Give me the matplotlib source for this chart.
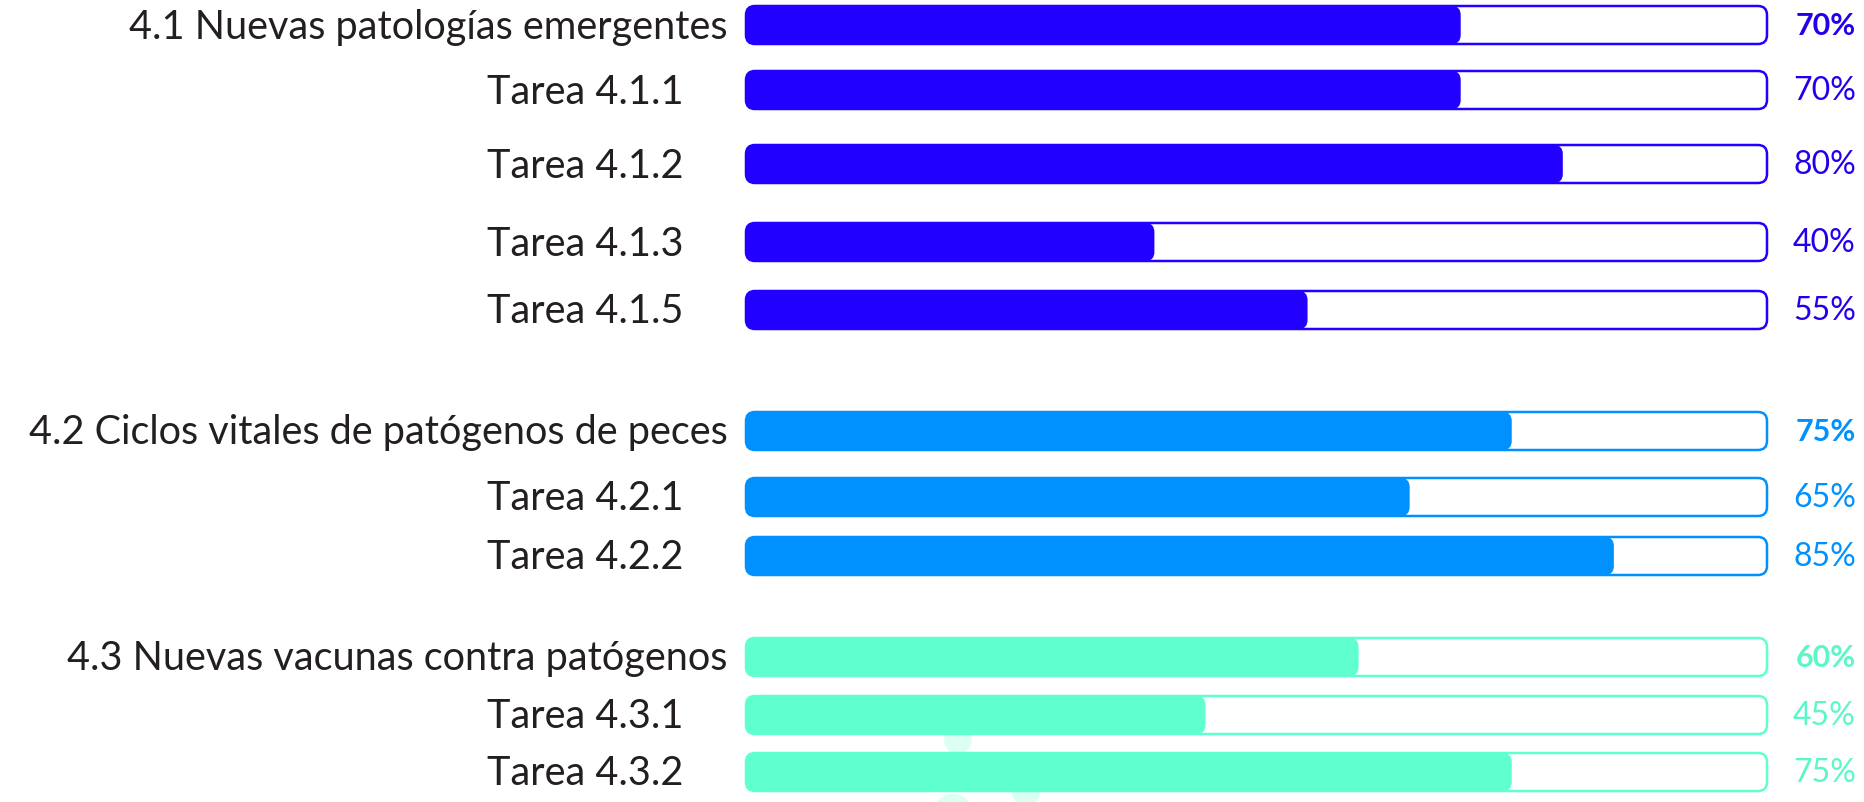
import matplotlib
matplotlib.use("Agg")
from matplotlib import pyplot as plt
from matplotlib import font_manager
from matplotlib.patches import FancyBboxPatch, Ellipse


# data
labels = ["4.1 Nuevas patologías emergentes", "Tarea 4.1.1", "Tarea 4.1.2",
          "Tarea 4.1.3", "Tarea 4.1.5",
          "4.2 Ciclos vitales de patógenos de peces", "Tarea 4.2.1", "Tarea 4.2.2",
          "4.3 Nuevas vacunas contra patógenos", "Tarea 4.3.1", "Tarea 4.3.2"]
values = [70, 70, 80, 40, 55, 75, 65, 85, 60, 45, 75]
is_group = [True, False, False, False, False, True, False, False, True, False, False]
group_of = [0, 0, 0, 0, 0, 1, 1, 1, 2, 2, 2]

# layout (pixel rows, top to bottom)
row_y = [26, 91, 165, 243, 311, 432, 498, 557, 658, 716, 773]
bar_h = 38
colors = ["#2200FF", "#0091FF", "#60FFD0"]
text_colors = ["#2200EE", "#0091FF", "#5CF7C8"]


def pick_font(cands):
    names = {f.name for f in font_manager.fontManager.ttflist}
    for c in cands:
        if c in names:
            return c
    return "DejaVu Sans"


font = pick_font(["Liberation Sans Narrow", "Lato", "Open Sans"])

W, H = 1864, 803
fig = plt.figure(figsize=(W / 100, H / 100), dpi=100)
x0, x1 = 746, 1767
ax = fig.add_axes([x0 / W, 0, (x1 - x0) / W, 1])
ax.set_xlim(0, 100)
ax.set_ylim(H, 0)
ax.axis("off")

px = (x1 - x0) / 100.0   # pixels per percent
r = 9                    # corner radius in px

# faint background decoration (circles, squashed to px units)
for cx, cy, rr in [(958, 741, 14), (953, 815, 20), (1026, 793, 14)]:
    ax.add_patch(Ellipse(((cx - x0) / px, cy), 2 * rr / px, 2 * rr,
                         facecolor="#DCFFF3", edgecolor="none", zorder=0, clip_on=False))

for i, (lab, v) in enumerate(zip(labels, values)):
    y = row_y[i]
    c = colors[group_of[i]]
    tc = text_colors[group_of[i]]
    # track
    track = FancyBboxPatch((0, y - bar_h / 2), 100, bar_h,
                           boxstyle="round,pad=0,rounding_size=%f" % (r / px),
                           mutation_aspect=px, facecolor="white",
                           edgecolor=c, linewidth=1.8, zorder=2, clip_on=False)
    ax.add_patch(track)
    # fill
    fill = FancyBboxPatch((0, y - bar_h / 2), v, bar_h,
                          boxstyle="round,pad=0,rounding_size=%f" % (r / px),
                          mutation_aspect=px, facecolor=c,
                          edgecolor="none", zorder=3, clip_on=False)
    ax.add_patch(fill)

    lx = -1.8 if is_group[i] else -6.1
    ax.text(lx, y + 1, lab, ha="right", va="center", fontsize=28.5,
            family=font, color="#231F20", clip_on=False)
    ax.text(108.7, y, "%d%%" % v, ha="right", va="center",
            fontsize=22 if is_group[i] else 23,
            fontweight="bold" if is_group[i] else "normal",
            family=font, color=tc, clip_on=False)

fig.savefig("out.png", dpi=100, facecolor="white")
